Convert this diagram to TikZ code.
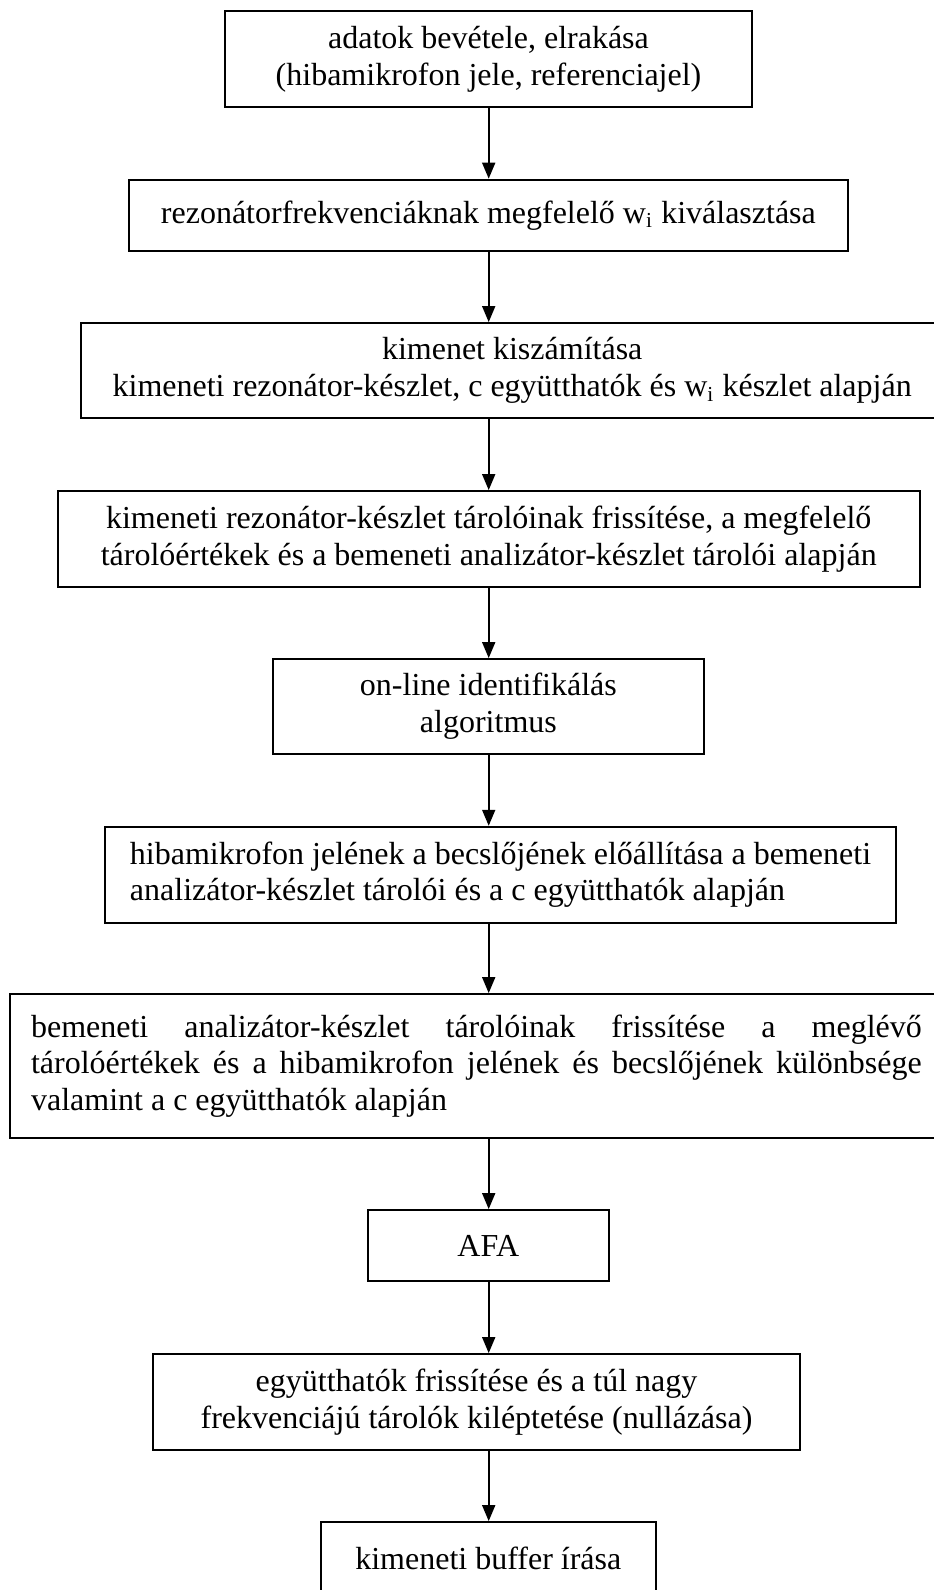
\documentclass[tikz,border=0pt]{standalone}
\usepackage{fontspec}
\setmainfont{Liberation Serif}
\usetikzlibrary{arrows.meta}

\begin{document}
\begin{tikzpicture}[
  x=0.375pt, y=-0.375pt,
  box/.style={draw, line width=0.7pt, inner sep=0pt, align=center,
    font=\fontsize{12}{13.8}\selectfont},
  flow/.style={line width=0.6pt, -{Triangle[width=4.9pt,length=6pt]}}
]
\useasboundingbox (0,0) rectangle (934,1590);

% vertical axis shared by all connectors
\coordinate (ax) at (488.7,0);

\node[box, minimum width=527*0.375pt, minimum height=96*0.375pt] (b1) at (488.5,59)
  {adatok bevétele, elrakása\\(hibamikrofon jele, referenciajel)};
\node[box, minimum width=719*0.375pt, minimum height=71.4*0.375pt] (b2) at (488.4,215.3)
  {rezonátorfrekvenciáknak megfelelő w\textsubscript{i} kiválasztása};
\node[box, minimum width=862*0.375pt, minimum height=95*0.375pt] (b3) at (512.2,370.5)
  {kimenet kiszámítása\\kimeneti rezonátor-készlet, c együtthatók és w\textsubscript{i} készlet alapján};
\node[box, minimum width=862*0.375pt, minimum height=96*0.375pt] (b4) at (488.7,539)
  {kimeneti rezonátor-készlet tárolóinak frissítése, a megfelelő\\tárolóértékek és a bemeneti analizátor-készlet tárolói alapján};
\node[box, minimum width=431.3*0.375pt, minimum height=95*0.375pt] (b5) at (488.4,706.5)
  {on-line identifikálás\\algoritmus};
\node[box, align=left, minimum width=791*0.375pt, minimum height=96*0.375pt] (b6) at (500.5,874.7)
  {hibamikrofon jelének a becslőjének előállítása a bemeneti\\analizátor-készlet tárolói és a c együtthatók alapján};
\node[box, align=justify, text width=334pt, minimum width=933*0.375pt, minimum height=144*0.375pt] (b7) at (476.4,1066)
  {\hyphenpenalty=10000 bemeneti analizátor-készlet tárolóinak frissítése a meglévő\linebreak
   tárolóértékek és a hibamikrofon jelének és becslőjének különbsége\linebreak
   valamint a c együtthatók alapján};
\node[box, minimum width=240.7*0.375pt, minimum height=71*0.375pt] (b8) at (488.3,1245.5)
  {AFA};
\node[box, minimum width=647*0.375pt, minimum height=96*0.375pt] (b9) at (476.5,1402)
  {együtthatók frissítése és a túl nagy\\frekvenciájú tárolók kiléptetése (nullázása)};
\node[box, minimum width=335.3*0.375pt, minimum height=72*0.375pt] (b10) at (488.3,1558)
  {kimeneti buffer írása};

\foreach \a/\b in {b1/b2, b2/b3, b3/b4, b4/b5, b5/b6, b6/b7, b7/b8, b8/b9, b9/b10}
  \draw[flow] (\a.south -| ax) -- (\b.north -| ax);
\end{tikzpicture}
\end{document}
